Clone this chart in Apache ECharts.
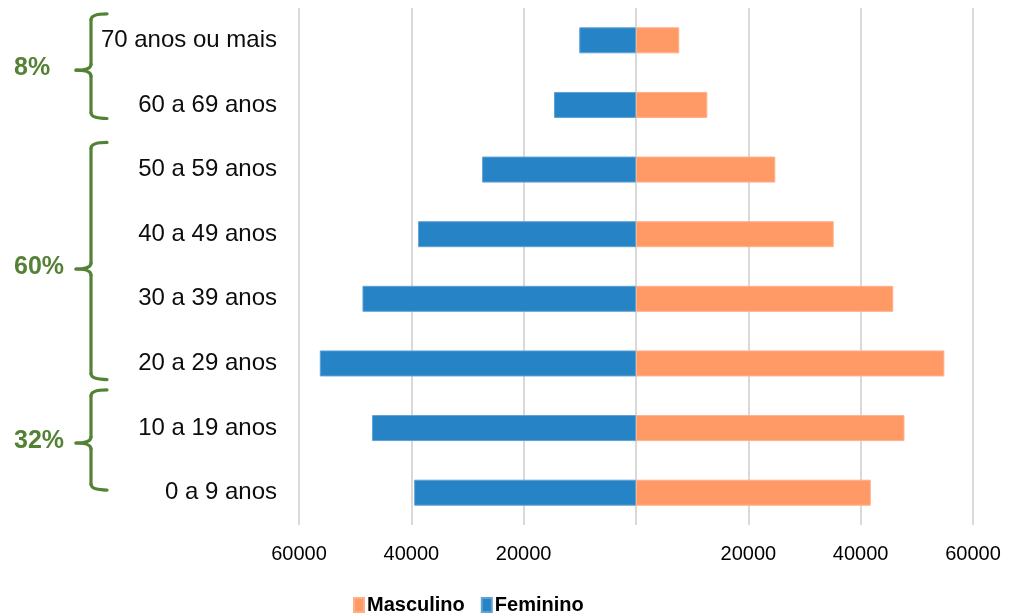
<!DOCTYPE html>
<html>
<head>
<meta charset="utf-8">
<script src="https://cdn.jsdelivr.net/npm/echarts@6/dist/echarts.min.js"></script>
<style>
  html, body { margin: 0; padding: 0; background: #fff; }
  #chart { width: 1009px; height: 614px; }
</style>
</head>
<body>
<div id="chart"></div>
<script>
// Age groups, bottom to top
const categories = ['0 a 9 anos', '10 a 19 anos', '20 a 29 anos', '30 a 39 anos',
  '40 a 49 anos', '50 a 59 anos', '60 a 69 anos', '70 anos ou mais'];
// Population by sex
const masculino = [41800, 47800, 54900, 45800, 35200, 24800, 12700, 7700];
const feminino  = [39500, 47000, 56300, 48700, 38800, 27400, 14600, 10100];
// Value axis extent and step
const axisMin = -60000;
const axisMax = 60000;
const tickStep = 20000;
// Share of population per age band group
const groupLabels = ['32%', '60%', '8%'];
const groupFirst  = [0, 2, 6];
const groupLast   = [1, 5, 7];

const sans = "'Liberation Sans', Arial, sans-serif";
const chart = echarts.init(document.getElementById('chart'), null, { renderer: 'canvas' });

chart.setOption({
  animation: false,
  backgroundColor: '#ffffff',
  grid: { left: 299, right: 36, top: 8, bottom: 89 },
  legend: {
    data: ['Masculino', 'Feminino'],
    left: 348,
    top: 590,
    icon: 'rect',
    itemWidth: 10,
    itemHeight: 14,
    itemGap: 16,
    textStyle: { fontFamily: sans, fontWeight: 'bold', fontSize: 20, color: '#000', padding: [0, 0, 0, -2] }
  },
  xAxis: {
    type: 'value',
    min: axisMin,
    max: axisMax,
    interval: tickStep,
    axisLine: { show: false },
    axisTick: { show: false },
    splitLine: { show: true, lineStyle: { color: '#d9d9d9', width: 2 } },
    axisLabel: {
      margin: 19,
      fontFamily: sans,
      fontSize: 20,
      color: '#000',
      formatter: v => (v === 0 ? '' : String(Math.abs(v)))
    }
  },
  yAxis: {
    type: 'category',
    data: categories,
    axisLine: { show: false, onZero: false },
    axisTick: { show: false },
    axisLabel: {
      margin: 22,
      fontFamily: sans,
      fontSize: 24,
      color: '#0d0d0d'
    }
  },
  series: [
    {
      name: 'Masculino',
      type: 'bar',
      barWidth: 26,
      barGap: '-100%',
      data: masculino,
      itemStyle: { color: '#ff9966', borderColor: '#ffb08a', borderWidth: 1 }
    },
    {
      name: 'Feminino',
      type: 'bar',
      barWidth: 26,
      barGap: '-100%',
      data: feminino.map(v => -v),
      itemStyle: { color: '#2683c6', borderColor: '#5fa2d6', borderWidth: 1 }
    }
  ]
});

// Curly braces grouping the age bands, placed from the category axis positions
const braceLayout = [
  { topPad: 0.59, bottomPad: -0.04, tipShift: 3 },
  { topPad: 0.42, bottomPad: 0.25, tipShift: 8 },
  { topPad: 0.41, bottomPad: 0.21, tipShift: 4 }
];
const green = '#548235';
const braceStyle = { fill: null, stroke: green, lineWidth: 3.2, lineCap: 'round' };
const yOf = i => chart.convertToPixel({ yAxisIndex: 0 }, categories[i]);
const band = Math.abs(yOf(0) - yOf(1));
const graphics = [];
const curve = (x1, y1, cx, cy, x2, y2) => ({
  type: 'bezierCurve', silent: true,
  shape: { x1, y1, x2, y2, cpx1: cx, cpy1: cy },
  style: braceStyle
});
const seg = (x1, y1, x2, y2) => ({
  type: 'line', silent: true,
  shape: { x1, y1, x2, y2 },
  style: braceStyle
});
groupLabels.forEach((label, g) => {
  const L = braceLayout[g];
  const top = yOf(groupLast[g]) - band * L.topPad;
  const bottom = yOf(groupFirst[g]) + band * L.bottomPad;
  const tip = (top + bottom) / 2 + L.tipShift;
  const x = 91, xr = 107, xl = 76, r = 6;
  graphics.push(
    curve(xr, top, x, top, x, top + r),
    seg(x, top + r, x, tip - r),
    curve(x, tip - r, x, tip, xl, tip),
    curve(xl, tip, x, tip, x, tip + r),
    seg(x, tip + r, x, bottom - r),
    curve(x, bottom - r, x, bottom, xr, bottom)
  );
  graphics.push({
    type: 'text',
    x: 14,
    y: tip - 2,
    silent: true,
    style: {
      text: label,
      font: "bold 25px 'Liberation Sans', Arial, sans-serif",
      fill: green,
      align: 'left',
      verticalAlign: 'middle'
    }
  });
});
chart.setOption({ graphic: graphics });
</script>
</body>
</html>
